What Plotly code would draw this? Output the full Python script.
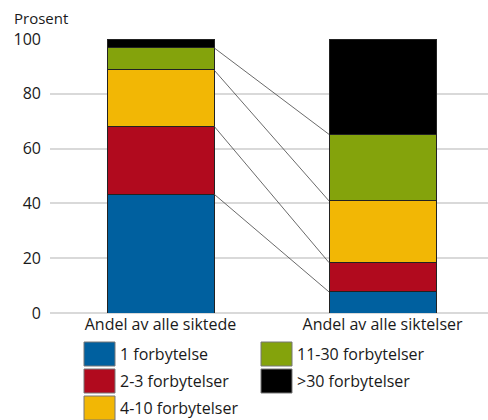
import plotly.graph_objects as go
import numpy as np

categories = ["Andel av alle siktede", "Andel av alle siktelser"]
series_names = ["1 forbytelse", "2-3 forbytelser", "4-10 forbytelser", "11-30 forbytelser", ">30 forbytelser"]
siktede = [43.4, 24.8, 20.5, 8.1, 3.2]
siktelser = [7.7, 10.7, 22.5, 24.3, 34.8]
colors = ["#00609F", "#B10A1E", "#F2B705", "#84A30C", "#000000"]
y_ticks = [0, 20, 40, 60, 80, 100]

FONT = "Open Sans"
W, H = 488, 420
L, R, T, B = 50, 0, 39, 107
bar_w = 0.482

fig = go.Figure()
xpos = [0, 1]
for i, name in enumerate(series_names):
    fig.add_trace(go.Bar(
        x=xpos, y=[siktede[i], siktelser[i]], name=name,
        marker=dict(color=colors[i], line=dict(color="#222222", width=1)),
        width=bar_w, showlegend=False,
    ))

# connector lines
cum1 = np.cumsum(siktede)
cum2 = np.cumsum(siktelser)
for k in range(len(series_names) - 1):
    fig.add_trace(go.Scatter(
        x=[0 + bar_w / 2, 1 - bar_w / 2], y=[cum1[k], cum2[k]],
        mode="lines", line=dict(color="#444444", width=0.8),
        showlegend=False, hoverinfo="skip",
    ))

# manual legend
pw = W - L - R
ph = H - T - B
col_x = [84, 261]
row_y = [342, 369, 396]
sw_w, sw_h = 31, 24
shapes = []
annotations = []
for i, name in enumerate(series_names):
    col = 0 if i < 3 else 1
    row = i if i < 3 else i - 3
    x0 = col_x[col]
    y0 = row_y[row]
    shapes.append(dict(
        type="rect", xref="paper", yref="paper",
        x0=(x0 - L) / pw, x1=(x0 + sw_w - L) / pw,
        y0=(H - B - (y0 + sw_h)) / ph, y1=(H - B - y0) / ph,
        fillcolor=colors[i], line=dict(color="#777777", width=1),
    ))
    annotations.append(dict(
        text=name, xref="paper", yref="paper",
        x=(x0 + sw_w + 3 - L) / pw, y=(H - B - (y0 + sw_h / 2)) / ph,
        xanchor="left", yanchor="middle", showarrow=False,
        font=dict(family=FONT, size=16, color="#1a1a1a"),
    ))

annotations.append(dict(
    text="Prosent", xref="paper", yref="paper",
    x=(12 - L) / pw, y=(H - B - 18) / ph,
    xanchor="left", yanchor="middle", showarrow=False,
    font=dict(family=FONT, size=15, color="#1a1a1a"),
))

fig.update_layout(
    width=W, height=H,
    margin=dict(l=L, r=R, t=T, b=B, pad=0),
    barmode="stack",
    plot_bgcolor="white", paper_bgcolor="white",
    font=dict(family=FONT, size=16, color="#1a1a1a"),
    shapes=shapes, annotations=annotations,
    xaxis=dict(
        tickmode="array", tickvals=xpos, ticktext=categories,
        range=[-0.4977, 1.475], showgrid=False, showline=False,
        zeroline=False, ticks="", tickfont=dict(size=16),
    ),
    yaxis=dict(
        range=[0, 100], tickvals=y_ticks, showgrid=True,
        gridcolor="#D9D9D9", gridwidth=1.5, zeroline=True,
        zerolinecolor="#D9D9D9", zerolinewidth=1.5, showline=False,
        ticks="", ticklabelstandoff=8, tickfont=dict(size=16),
    ),
)

fig.write_html("out.html", config={"displayModeBar": False},
               post_script="document.body.style.margin='0';")
